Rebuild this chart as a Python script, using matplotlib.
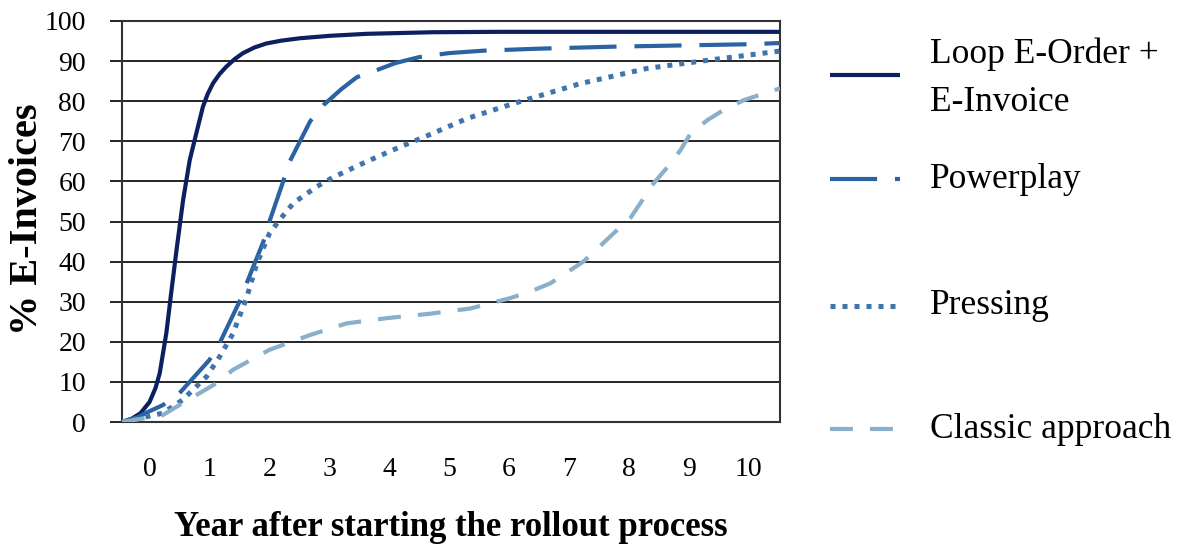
import matplotlib
matplotlib.use("Agg")
import matplotlib.pyplot as plt
from matplotlib.lines import Line2D

# values (year, % e-invoices)
loop_x = [-0.46, -0.3, -0.15, 0.0, 0.1, 0.17, 0.28, 0.36, 0.45, 0.56, 0.67, 0.78,
          0.89, 0.97, 1.06, 1.17, 1.28, 1.42, 1.56, 1.75, 1.95, 2.2, 2.51, 3.0,
          3.62, 4.73, 5.85, 8.0, 10.52]
loop_y = [0.0, 0.8, 2.2, 5.0, 8.5, 12.2, 22.2, 32.1, 42.9, 55.4, 65.3, 72.0,
          78.6, 81.8, 84.5, 86.8, 88.6, 90.5, 92.0, 93.4, 94.4, 95.1, 95.7, 96.3,
          96.8, 97.2, 97.3, 97.3, 97.3]

power_x = [-0.46, -0.2, 0.0, 0.22, 0.5, 1.0, 1.17, 1.5, 1.62, 1.9, 2.0, 2.23, 2.34,
           2.68, 2.9, 3.2, 3.46, 3.8, 4.1, 4.5, 5.0, 5.57, 6.5, 7.74, 8.86, 9.98, 10.52]
power_y = [0.0, 1.2, 2.7, 4.2, 7.2, 15.5, 19.7, 30.0, 34.6, 45.0, 50.0, 60.0, 65.0,
           75.0, 79.0, 83.0, 86.0, 87.8, 89.5, 91.0, 92.0, 92.6, 93.1, 93.6, 93.9, 94.2, 94.5]

press_x = [-0.46, 0.22, 0.55, 0.95, 1.17, 1.39, 1.62, 1.79, 2.0, 2.17, 2.4, 2.79,
           3.06, 3.63, 4.18, 4.73, 5.3, 6.07, 7.19, 8.31, 9.41, 10.52]
press_y = [0.0, 2.2, 5.5, 11.3, 16.3, 22.0, 31.0, 39.5, 47.0, 50.4, 54.6, 58.7,
           61.0, 65.0, 68.6, 72.0, 75.7, 79.4, 84.4, 88.2, 90.4, 92.5]

classic_x = [-0.46, 0.22, 0.55, 1.12, 1.39, 2.0, 2.68, 3.29, 3.96, 4.68, 5.35,
             6.02, 6.35, 6.69, 7.24, 7.74, 8.03, 8.41, 8.65, 8.86, 9.03, 9.31,
             9.58, 9.92, 10.52]
classic_y = [0.0, 1.7, 4.7, 9.7, 13.0, 18.0, 21.7, 24.6, 25.9, 27.0, 28.3,
             30.9, 32.5, 34.6, 40.0, 47.0, 51.0, 59.5, 63.7, 67.8, 72.0, 75.3,
             77.8, 80.3, 83.2]

labels = ["Loop E-Order +\nE-Invoice", "Powerplay", "Pressing", "Classic approach"]
colors = ["#0b2060", "#2a62a2", "#3f74ad", "#8aafca"]
x_ticks = list(range(0, 11))
y_ticks = list(range(0, 101, 10))

serif = "Liberation Serif"
plt.rcParams["font.family"] = serif

fig = plt.figure(figsize=(11.84, 5.52), dpi=100)
ax = fig.add_axes([122 / 1184, 1 - 422 / 552, 658 / 1184, 401 / 552])

styles = [
    dict(ls="-", lw=3.0),
    dict(ls=(0, (11.3, 4.3)), lw=3.0),
    dict(ls=(0, (1.0, 1.4)), lw=3.6),
    dict(ls=(0, (5.5, 4.1)), lw=3.0),
]
series = [(loop_x, loop_y), (power_x, power_y), (press_x, press_y), (classic_x, classic_y)]
for (xs, ys), c, st in zip(series, colors, styles):
    ax.plot(xs, ys, color=c, solid_capstyle="butt", dash_capstyle="butt",
            solid_joinstyle="round", zorder=3, **st)

ax.set_xlim(-0.46, 10.52)
ax.set_ylim(0, 100)
ax.set_xticks(x_ticks)
ax.set_yticks(y_ticks)
ax.set_xticklabels([str(v) for v in x_ticks], fontsize=20)
ax.set_yticklabels([str(v) for v in y_ticks], fontsize=20)
ax.tick_params(axis="x", length=0, pad=25)
ax.tick_params(axis="y", length=9, width=1.2, pad=17, direction="out")
ax.yaxis.grid(True, color="black", lw=1.2)
ax.set_axisbelow(True)
for sp in ax.spines.values():
    sp.set_color("#333333")
    sp.set_linewidth(1.5)

fig.text(28 / 1184, 1 - 219 / 552, "% E-Invoices", rotation=90, ha="center",
         va="center", fontsize=29, fontweight="bold")
fig.text(451 / 1184, 1 - 527 / 552, "Year after starting the rollout process",
         ha="center", va="center", fontsize=25, fontweight="bold")

# legend drawn at the right side
legend_line_y = [75, 179, 306, 429]
legend_text_y = [78, 180, 305, 430]
for lab, c, st, ly, ty in zip(labels, colors, styles, legend_line_y, legend_text_y):
    fig.add_artist(Line2D([830 / 1184, 900 / 1184], [1 - ly / 552, 1 - ly / 552],
                          color=c, solid_capstyle="butt", dash_capstyle="butt",
                          transform=fig.transFigure, **st))
    fig.text(930 / 1184, 1 - ty / 552, lab, ha="left", va="center",
             fontsize=25.5, linespacing=1.6)

fig.savefig("out.png", dpi=100)
